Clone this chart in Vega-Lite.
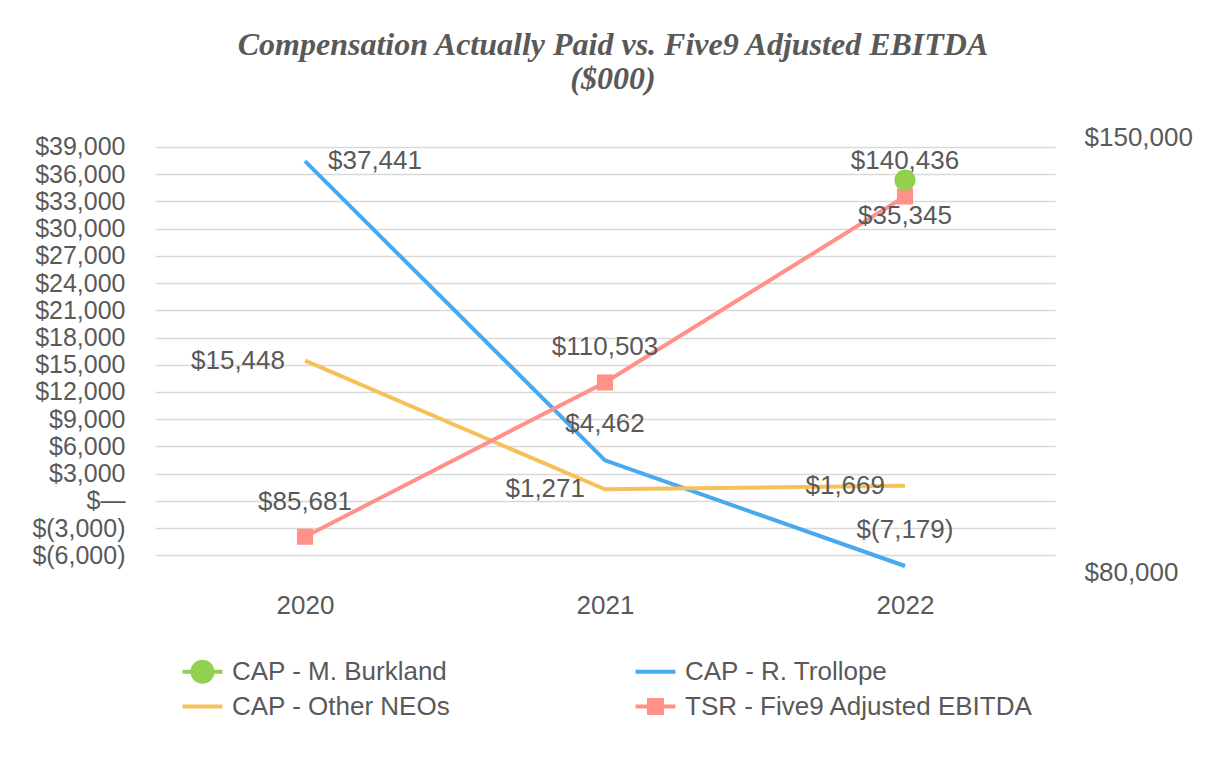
{
  "$schema": "https://vega.github.io/schema/vega-lite/v6.json",
  "autosize": "none",
  "width": 900,
  "height": 435,
  "padding": {"left": 155, "top": 137, "right": 171, "bottom": 188},
  "background": "white",
  "title": {
    "text": ["Compensation Actually Paid vs. Five9 Adjusted EBITDA ", "($000)"],
    "font": "Liberation Serif",
    "fontSize": 32,
    "fontStyle": "italic",
    "fontWeight": "bold",
    "color": "#595959",
    "lineHeight": 34,
    "anchor": "middle",
    "offset": 28,
    "dx": 8
  },
  "config": {
    "view": {"stroke": null},
    "font": "Liberation Sans",
    "axis": {"labelFont": "Liberation Sans", "labelColor": "#595959"}
  },
  "data": {
    "values": [
      {"year": "2020", "series": "CAP - R. Trollope", "value": 37441},
      {"year": "2021", "series": "CAP - R. Trollope", "value": 4462},
      {"year": "2022", "series": "CAP - R. Trollope", "value": -7179},
      {"year": "2020", "series": "CAP - Other NEOs", "value": 15448},
      {"year": "2021", "series": "CAP - Other NEOs", "value": 1271},
      {"year": "2022", "series": "CAP - Other NEOs", "value": 1669},
      {"year": "2022", "series": "CAP - M. Burkland", "value": 35345},
      {"year": "2020", "series": "TSR - Five9  Adjusted EBITDA", "value": 85681},
      {"year": "2021", "series": "TSR - Five9  Adjusted EBITDA", "value": 110503},
      {"year": "2022", "series": "TSR - Five9  Adjusted EBITDA", "value": 140436}
    ]
  },
  "transform": [
    {"calculate": "datum.value < 0 ? '$(' + format(-datum.value, ',') + ')' : '$' + format(datum.value, ',')", "as": "label"}
  ],
  "encoding": {
    "x": {
      "field": "year",
      "type": "ordinal",
      "scale": {"type": "point", "padding": 0.5},
      "axis": {"title": null, "labelAngle": 0, "domain": false, "ticks": false, "tickSize": 0, "grid": false, "labelFontSize": 26, "labelPadding": 20, "labelColor": "#595959"}
    }
  },
  "layer": [
    {
      "transform": [{"filter": "datum.series !== 'TSR - Five9  Adjusted EBITDA'"}],
      "encoding": {
        "y": {
          "field": "value",
          "type": "quantitative",
          "scale": {"domain": [-7841, 40102], "nice": false, "zero": false},
          "axis": {
            "title": null,
            "orient": "left",
            "values": [-6000, -3000, 0, 3000, 6000, 9000, 12000, 15000, 18000, 21000, 24000, 27000, 30000, 33000, 36000, 39000],
            "labelExpr": "datum.value == 0 ? '$—' : (datum.value < 0 ? '$(' + format(-datum.value, ',') + ')' : '$' + format(datum.value, ','))",
            "domain": false,
            "ticks": false,
            "tickSize": 0,
            "grid": true,
            "gridColor": "#D9D9D9",
            "gridWidth": 1.5,
            "labelFontSize": 25,
            "labelPadding": 30,
            "labelOverlap": false,
            "labelFlush": false,
            "labelColor": "#595959"
          }
        }
      },
      "layer": [
        {
          "transform": [{"filter": "datum.series !== 'CAP - M. Burkland'"}],
          "mark": {"type": "line", "strokeWidth": 4},
          "encoding": {
            "color": {
              "field": "series",
              "type": "nominal",
              "scale": {
                "domain": ["CAP - M. Burkland", "CAP - R. Trollope", "CAP - Other NEOs", "TSR - Five9  Adjusted EBITDA"],
                "range": ["#92D050", "#47A9F0", "#F7C15A", "#FF9189"]
              },
              "legend": {
                "title": null,
                "orient": "none",
                "legendX": 30,
                "legendY": 517,
                "direction": "horizontal",
                "columns": 2,
                "columnPadding": 184,
                "rowPadding": 4,
                "padding": 0,
                "symbolSize": 1225,
                "symbolType": "square",
                "labelFontSize": 26,
                "labelFont": "Liberation Sans",
                "labelColor": "#595959",
                "labelOffset": 12,
                "labelLimit": 500,
                "encode": {
                  "symbols": {
                    "update": {
                      "shape": {"signal": "datum.value === 'CAP - M. Burkland' ? 'M-1.14,-0.114L1.14,-0.114L1.14,0.114L-1.14,0.114Z M0.686,0A0.686,0.686,0,1,1,-0.686,0A0.686,0.686,0,1,1,0.686,0Z' : (datum.value === 'TSR - Five9  Adjusted EBITDA' ? 'M-1.14,-0.114L1.14,-0.114L1.14,0.114L-1.14,0.114Z M-0.486,-0.486L0.486,-0.486L0.486,0.486L-0.486,0.486Z' : 'M-1.14,-0.114L1.14,-0.114L1.14,0.114L-1.14,0.114Z')"},
                      "fill": {"signal": "datum.value === 'CAP - M. Burkland' ? '#92D050' : (datum.value === 'CAP - R. Trollope' ? '#47A9F0' : (datum.value === 'CAP - Other NEOs' ? '#F7C15A' : '#FF9189'))"},
                      "fillOpacity": {"value": 1},
                      "opacity": {"value": 1},
                      "strokeWidth": {"value": 0},
                      "stroke": {"value": "transparent"}
                    }
                  }
                }
              }
            }
          }
        },
        {
          "transform": [{"filter": "datum.series === 'CAP - Other NEOs'"}],
          "mark": {"type": "text", "align": "right", "baseline": "middle", "dx": -20, "fontSize": 26, "font": "Liberation Sans", "color": "#595959"},
          "encoding": {"text": {"field": "label"}}
        },
        {
          "transform": [{"filter": "datum.series === 'CAP - R. Trollope' && datum.year === '2020'"}],
          "mark": {"type": "text", "align": "left", "baseline": "middle", "dx": 23, "fontSize": 26, "font": "Liberation Sans", "color": "#595959"},
          "encoding": {"text": {"field": "label"}}
        },
        {
          "transform": [{"filter": "datum.series === 'CAP - R. Trollope' && datum.year !== '2020'"}],
          "mark": {"type": "text", "align": "center", "baseline": "middle", "dy": -36, "fontSize": 26, "font": "Liberation Sans", "color": "#595959"},
          "encoding": {"text": {"field": "label"}}
        }
      ]
    },
    {
      "transform": [{"filter": "datum.series === 'TSR - Five9  Adjusted EBITDA'"}],
      "encoding": {
        "y": {
          "field": "value",
          "type": "quantitative",
          "scale": {"domain": [80000, 150000], "nice": false, "zero": false},
          "axis": {
            "title": null,
            "orient": "right",
            "values": [80000, 150000],
            "labelExpr": "'$' + format(datum.value, ',')",
            "domain": false,
            "ticks": false,
            "tickSize": 0,
            "grid": false,
            "labelFontSize": 26,
            "labelPadding": 29,
            "labelOverlap": false,
            "labelFlush": false,
            "labelBound": false,
            "labelColor": "#595959"
          }
        }
      },
      "layer": [
        {
          "mark": {"type": "line", "strokeWidth": 4},
          "encoding": {
            "color": {
              "field": "series",
              "type": "nominal",
              "scale": {
                "domain": ["CAP - M. Burkland", "CAP - R. Trollope", "CAP - Other NEOs", "TSR - Five9  Adjusted EBITDA"],
                "range": ["#92D050", "#47A9F0", "#F7C15A", "#FF9189"]
              }
            }
          }
        },
        {
          "mark": {"type": "square", "size": 260, "filled": true, "color": "#FF9189", "opacity": 1}
        },
        {
          "mark": {"type": "text", "align": "center", "baseline": "middle", "dy": -35, "fontSize": 26, "font": "Liberation Sans", "color": "#595959"},
          "encoding": {"text": {"field": "label"}}
        }
      ]
    },
    {
      "transform": [{"filter": "datum.series === 'CAP - M. Burkland'"}],
      "encoding": {
        "y": {
          "field": "value",
          "type": "quantitative",
          "scale": {"domain": [-7841, 40102], "nice": false, "zero": false},
          "axis": null
        }
      },
      "layer": [
        {
          "mark": {"type": "circle", "size": 450, "color": "#92D050", "opacity": 1}
        },
        {
          "mark": {"type": "text", "align": "center", "baseline": "middle", "dy": 36, "fontSize": 26, "font": "Liberation Sans", "color": "#595959"},
          "encoding": {"text": {"field": "label"}}
        }
      ]
    }
  ],
  "resolve": {"scale": {"y": "independent"}}
}
